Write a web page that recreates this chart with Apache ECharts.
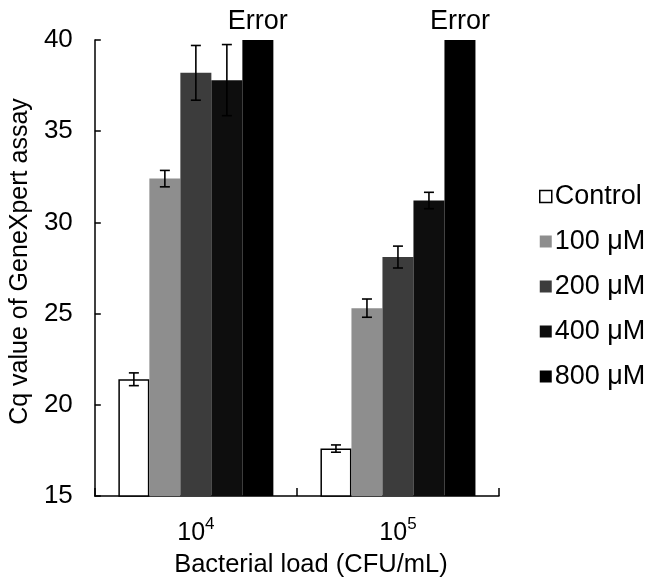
<!DOCTYPE html>
<html>
<head>
<meta charset="utf-8">
<script src="https://cdn.jsdelivr.net/npm/echarts@6/dist/echarts.min.js"></script>
<style>
html,body{margin:0;padding:0;background:#fff;}
#chart{width:648px;height:583px;}
</style>
</head>
<body>
<div id="chart"></div>
<script>
// ---- data ----
var categories = ['10^4', '10^5'];
var seriesNames = ['Control', '100 μM', '200 μM', '400 μM', '800 μM'];
var controlVals = [21.4, 17.6];
var controlErr = [0.35, 0.2];
var v100 = [32.4, 25.3];
var e100 = [0.45, 0.5];
var v200 = [38.2, 28.1];
var e200 = [1.5, 0.6];
var v400 = [37.8, 31.2];
var e400 = [1.95, 0.45];
var v800 = [40, 40];
var e800 = [0, 0];
var errorLabel = 'Error';
var yTicks = [15, 20, 25, 30, 35, 40];

var FONT = 'Arial, "Liberation Sans", Helvetica, sans-serif';
var colors = ['#ffffff', '#8e8e8e', '#3c3c3c', '#0e0e0e', '#000000'];
var values = [controlVals, v100, v200, v400, v800];
var errors = [controlErr, e100, e200, e400, e800];
var BAR_W = 31;

var chart = echarts.init(document.getElementById('chart'), null, {renderer: 'canvas'});

var series = [];
values.forEach(function (vals, i) {
  var s = {
    name: seriesNames[i],
    type: 'bar',
    data: vals,
    barWidth: BAR_W,
    barGap: '0%',
    itemStyle: {color: colors[i], borderColor: i === 0 ? '#000' : colors[i], borderWidth: i === 0 ? 1.5 : 0},
    emphasis: {disabled: true},
    z: 2
  };
  if (i === 4) {
    s.label = {show: true, position: 'top', distance: 5, formatter: errorLabel,
      fontSize: 27, fontFamily: FONT, color: '#000'};
  }
  series.push(s);
});

// error bars
var errData = [];
values.forEach(function (vals, i) {
  vals.forEach(function (v, c) {
    if (errors[i][c] > 0) errData.push([c, v, errors[i][c], i]);
  });
});
series.push({
  type: 'custom',
  name: 'errbars',
  data: errData,
  z: 5,
  silent: true,
  renderItem: function (params, api) {
    var c = api.value(0), v = api.value(1), e = api.value(2), si = api.value(3);
    var off = (si - 2) * BAR_W;
    var hi = api.coord([c, v + e]);
    var lo = api.coord([c, v - e]);
    var x = hi[0] + off;
    var cap = 5;
    var st = {stroke: '#000', lineWidth: 1.6};
    return {type: 'group', children: [
      {type: 'line', shape: {x1: x, y1: hi[1], x2: x, y2: lo[1]}, style: st},
      {type: 'line', shape: {x1: x - cap, y1: hi[1], x2: x + cap, y2: hi[1]}, style: st},
      {type: 'line', shape: {x1: x - cap, y1: lo[1], x2: x + cap, y2: lo[1]}, style: st}
    ]};
  }
});

var option = {
  animation: false,
  backgroundColor: '#fff',
  textStyle: {fontFamily: FONT, color: '#000'},
  grid: {left: 94, right: 149, top: 40, bottom: 80, containLabel: false},
  legend: {
    orient: 'vertical',
    left: 539, top: 183,
    padding: 0,
    itemWidth: 12, itemHeight: 12,
    itemGap: 18,
    icon: 'rect',
    textStyle: {fontSize: 27, fontFamily: FONT, color: '#000', lineHeight: 27, padding: [0, 0, 0, -2]},
    data: seriesNames.map(function (n, i) {
      return {name: n, itemStyle: {color: colors[i], borderColor: '#000', borderWidth: i === 0 ? 1.5 : 0}};
    })
  },
  xAxis: {
    type: 'category',
    data: categories,
    axisLine: {lineStyle: {color: '#000', width: 1.5}},
    axisTick: {show: true, inside: true, length: 8, alignWithLabel: false, lineStyle: {color: '#000', width: 1.5}},
    axisLabel: {
      margin: 20,
      formatter: function (v) {
        var p = v.split('^');
        return '{b|' + p[0] + '}{s|' + p[1] + '}';
      },
      rich: {
        b: {fontSize: 25, fontFamily: FONT, color: '#000', verticalAlign: 'bottom', lineHeight: 30},
        s: {fontSize: 17, fontFamily: FONT, color: '#000', verticalAlign: 'top', lineHeight: 30, padding: [0, 0, 10, 0]}
      }
    },
    name: 'Bacterial load (CFU/mL)',
    nameLocation: 'middle',
    nameGap: 56,
    nameTextStyle: {fontSize: 25.5, fontFamily: FONT, color: '#000', padding: [0, 0, 0, 28]}
  },
  yAxis: {
    type: 'value',
    min: 15, max: 40, interval: 5,
    axisLine: {show: true, lineStyle: {color: '#000', width: 1.5}},
    axisTick: {show: true, inside: true, length: 6, lineStyle: {color: '#000', width: 1.5}},
    splitLine: {show: false},
    axisLabel: {fontSize: 26, fontFamily: FONT, color: '#000', margin: 22,
      customValues: yTicks},
    name: 'Cq value of GeneXpert assay',
    nameLocation: 'middle',
    nameGap: 61,
    nameTextStyle: {fontSize: 25, fontFamily: FONT, color: '#000', padding: [0, 0, 0, 13]}
  },
  series: series
};
chart.setOption(option);
</script>
</body>
</html>
